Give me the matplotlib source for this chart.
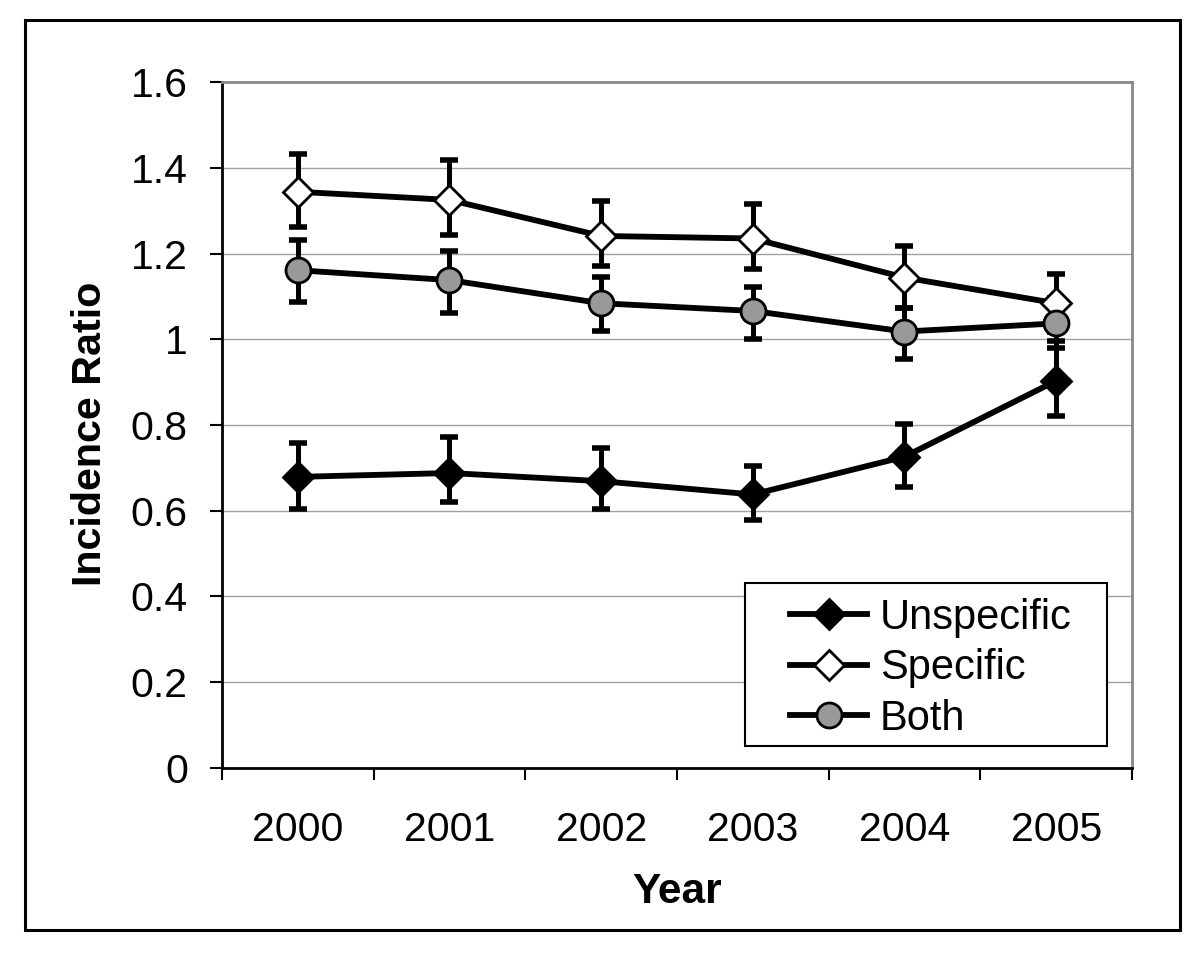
import matplotlib
matplotlib.use("Agg")
import matplotlib.pyplot as plt
from matplotlib.patches import Rectangle
from matplotlib.ticker import FixedLocator, FuncFormatter

# valores (razão de incidência e IC)
years = ["2000", "2001", "2002", "2003", "2004", "2005"]

unspec = [0.679, 0.688, 0.669, 0.638, 0.726, 0.903]
unspec_lo = [0.603, 0.621, 0.603, 0.578, 0.656, 0.821]
unspec_hi = [0.757, 0.771, 0.747, 0.704, 0.802, 0.996]

spec = [1.344, 1.325, 1.241, 1.235, 1.144, 1.084]
spec_lo = [1.261, 1.243, 1.171, 1.165, 1.074, 1.016]
spec_hi = [1.431, 1.418, 1.322, 1.315, 1.218, 1.152]

both = [1.161, 1.138, 1.084, 1.066, 1.018, 1.037]
both_lo = [1.086, 1.062, 1.019, 1.000, 0.953, 0.979]
both_hi = [1.231, 1.207, 1.146, 1.123, 1.074, 1.097]

yticks = [0, 0.2, 0.4, 0.6, 0.8, 1.0, 1.2, 1.4, 1.6]

plt.rcParams["font.family"] = ["Liberation Sans", "DejaVu Sans"]

fig = plt.figure(figsize=(12, 9.57), dpi=100)
ax = fig.add_axes([0.185, 0.1975, 0.7583, 0.7168])

x = list(range(len(years)))

series = [
    ("Unspecific", unspec, unspec_lo, unspec_hi, "D", "black", 15),
    ("Specific", spec, spec_lo, spec_hi, "D", "white", 15),
    ("Both", both, both_lo, both_hi, "o", "#999999", 18),
]

handles = []
for i, (name, vals, lo, hi, mk, fc, ms) in enumerate(series):
    err = [[v - l for v, l in zip(vals, lo)], [h - v for v, h in zip(vals, hi)]]
    ax.errorbar(x, vals, yerr=err, fmt="none", ecolor="black", elinewidth=3.6,
                capsize=6.4, capthick=4, zorder=2 + i * 0.1)
    h, = ax.plot(x, vals, color="black", lw=4.2, marker=mk, ms=ms,
                 markerfacecolor=fc, markeredgecolor="black", markeredgewidth=2,
                 zorder=3 + i * 0.1, label=name)
    handles.append(h)

ax.set_xlim(-0.5, len(years) - 0.5)
ax.set_ylim(0, 1.6)

# eixo y
ax.yaxis.set_major_locator(FixedLocator(yticks))
ax.yaxis.set_major_formatter(FuncFormatter(lambda v, p: f"{v:g}"))
ax.tick_params(axis="y", direction="out", length=8.6, width=1.5, pad=16,
               labelsize=29.5, color="black")
ax.grid(axis="y", color="#a0a0a0", lw=1.0)
ax.set_axisbelow(True)

# eixo x: ticks nas fronteiras, rótulos no centro
ax.xaxis.set_major_locator(FixedLocator([v - 0.5 for v in range(len(years) + 1)]))
ax.xaxis.set_major_formatter(FuncFormatter(lambda v, p: ""))
ax.xaxis.set_minor_locator(FixedLocator(x))
ax.set_xticklabels(years, minor=True)
ax.tick_params(axis="x", which="major", direction="out", length=8.6, width=1.5)
ax.tick_params(axis="x", which="minor", length=0, pad=31, labelsize=29.5)

for s in ("left", "bottom"):
    ax.spines[s].set_color("black")
    ax.spines[s].set_linewidth(2)
for s in ("top", "right"):
    ax.spines[s].set_color("#888888")
    ax.spines[s].set_linewidth(2)

ax.set_xlabel("Year", fontsize=30.5, fontweight="bold")
ax.set_ylabel("Incidence Ratio", fontsize=29.7, fontweight="bold")
ax.xaxis.set_label_coords(0.5, -0.181)
ax.xaxis.label.set_va("center")
ax.yaxis.set_label_coords(-0.145, 0.487)
ax.yaxis.label.set_va("center")

# caixa da legenda
box = Rectangle((0.575, 0.0325), 0.3975, 0.2375, transform=ax.transAxes,
                facecolor="white", edgecolor="black", lw=1.5, zorder=5)
ax.add_patch(box)
leg = ax.legend(handles=handles, loc="center", bbox_to_anchor=(0.779, 0.1455),
                frameon=False, fontsize=30, handlelength=1.85, handletextpad=0.3,
                labelspacing=0.25, borderpad=0.2)
leg.set_zorder(6)

# moldura externa
fig.patches.append(Rectangle((25 / 1200, 1 - 930 / 957), 1155 / 1200, 910 / 957,
                             transform=fig.transFigure, fill=False,
                             edgecolor="black", lw=2.2))

fig.savefig("out.png", dpi=100, facecolor="white")
